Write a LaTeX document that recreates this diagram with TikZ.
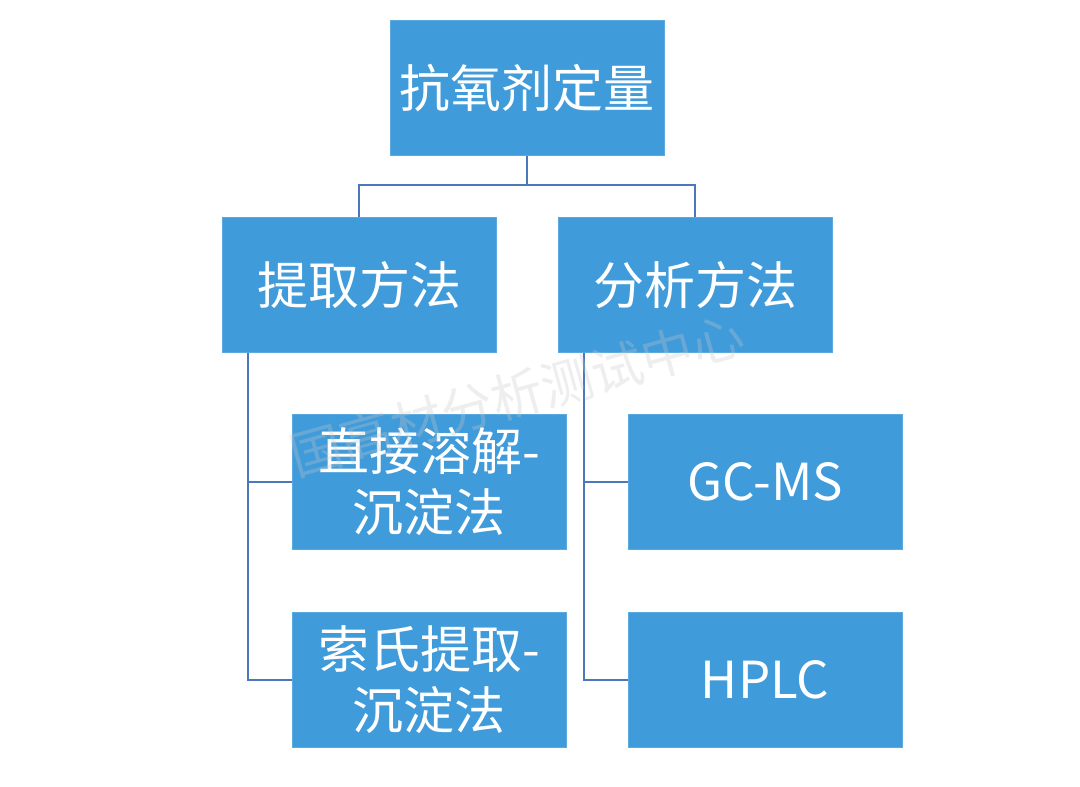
\documentclass[tikz,border=0pt]{standalone}
\usepackage{fontspec}
\setmainfont{Noto Sans CJK SC}
\newfontfamily\cjk{Noto Sans CJK SC}
\definecolor{boxfill}{HTML}{409BDA}
\definecolor{boxline}{HTML}{5AAAE0}
\definecolor{conn}{HTML}{4A78BA}
\definecolor{wmark}{HTML}{C8C8C8}
\tikzset{
  box/.style={draw=boxline, line width=0.8pt, fill=boxfill, minimum width=274, minimum height=135,
    inner sep=0pt, text=white, align=center, font=\cjk\fontsize{51}{61}\selectfont},
  connline/.style={draw=conn, line width=2.8pt},
}
\begin{document}
\begin{tikzpicture}[x=1pt,y=-1pt]
\useasboundingbox (0,0) rectangle (1080,787);
\fill[white] (0,0) rectangle (1080,787);
\node[box] (top) at (527,88) {抗氧剂定量};
\node[box] (ext) at (359,285) {提取方法};
\node[box] (ana) at (695,285) {分析方法};
\node[box] (d1) at (429,482) {直接溶解-\\沉淀法};
\node[box] (d2) at (429,680) {索氏提取-\\沉淀法};
\node[box] (g1) at (765,482) {GC-MS};
\node[box] (g2) at (765,680) {HPLC};
\coordinate (mid) at (527,185);
\coordinate (lx) at (248,0);
\coordinate (rx) at (584,0);
\draw[connline] (top.south) -- (mid) -| (ext.north);
\draw[connline] (mid) -| (ana.north);
\draw[connline] (ext.south -| lx) |- (d2.west);
\draw[connline] (d1.west -| lx) -- (d1.west);
\draw[connline] (ana.south -| rx) |- (g2.west);
\draw[connline] (g1.west -| rx) -- (g1.west);
\node[text=wmark, opacity=0.3, rotate=15.5, font=\cjk\fontsize{52}{52}\selectfont, inner sep=0pt] (wm) at (517,395) {国高材分析测试中心};
\end{tikzpicture}
\end{document}
